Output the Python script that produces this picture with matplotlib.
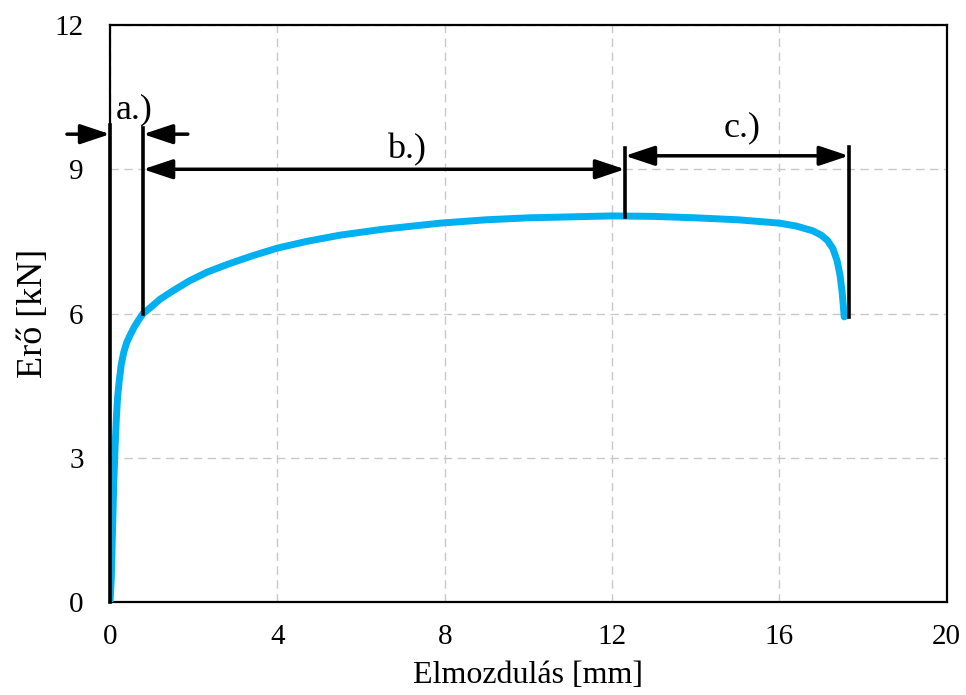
"""
Force-displacement curve of a tensile test with the three stages marked.
"""

import matplotlib.pyplot as plt

plt.rcParams["font.family"] = ["Liberation Serif", "DejaVu Serif"]

# curve
disp = [0.0, 0.03, 0.06, 0.09, 0.12, 0.15, 0.18, 0.22, 0.27, 0.33, 0.4, 0.48,
        0.58, 0.68, 0.79, 0.96, 1.2, 1.5, 1.9, 2.32, 2.8, 3.4, 4.0, 4.7, 5.5,
        6.5, 7.9, 9.0, 10.0, 11.0, 12.0, 13.0, 14.0, 15.0, 16.0, 16.4, 16.8,
        17.0, 17.15, 17.28, 17.38, 17.45, 17.5, 17.53, 17.55]
force = [0.0, 0.5, 1.5, 2.5, 3.2, 3.8, 4.25, 4.6, 4.95, 5.2, 5.4, 5.55,
         5.72, 5.86, 6.0, 6.12, 6.3, 6.47, 6.68, 6.86, 7.02, 7.2, 7.36, 7.5, 7.63,
         7.75, 7.88, 7.95, 7.99, 8.01, 8.03, 8.02, 7.99, 7.95, 7.88, 7.82, 7.72,
         7.63, 7.52, 7.35, 7.1, 6.8, 6.45, 6.15, 5.93]

# stage boundaries and annotation heights
x_a, x_b, x_c = 0.0, 0.79, 12.31
x_end = 17.66
y_a, y_b, y_c = 9.73, 9.0, 9.28

stage_lines = [
    (x_a, 0.0, 9.92),
    (x_b, 6.0, 9.86),
    (x_c, 8.01, 9.44),
    (x_end, 5.93, 9.46),
]
labels = [("a.)", 0.57, 10.23), ("b.)", 7.1, 9.4), ("c.)", 15.1, 9.86)]

fig = plt.figure(figsize=(9.66, 6.95), dpi=100)
ax = fig.add_axes([0.1139, 0.1338, 0.8661, 0.8302])

ax.plot(disp, force, color="#00B0F0", lw=5, solid_capstyle="round",
        solid_joinstyle="round", zorder=3)

for x, y0, y1 in stage_lines:
    ax.plot([x, x], [y0, y1], color="black", lw=2.6, zorder=4, clip_on=False)

head = "-|>,head_length=0.9,head_width=0.3"
both = "<|-|>,head_length=0.9,head_width=0.3"
arrow_kw = dict(color="black", lw=2.5, shrinkA=0, shrinkB=0, mutation_scale=20)

# a.) : two arrows pointing inward
ax.annotate("", xy=(x_a, y_a), xytext=(-1.03, y_a),
            arrowprops=dict(arrowstyle=head, **arrow_kw), annotation_clip=False)
ax.annotate("", xy=(x_b, y_a), xytext=(1.86, y_a),
            arrowprops=dict(arrowstyle=head, **arrow_kw), annotation_clip=False)
# b.) and c.)
ax.annotate("", xy=(x_b, y_b), xytext=(x_c, y_b),
            arrowprops=dict(arrowstyle=both, **arrow_kw))
ax.annotate("", xy=(x_c, y_c), xytext=(x_end, y_c),
            arrowprops=dict(arrowstyle=both, **arrow_kw))

for txt, x, y in labels:
    ax.text(x, y, txt, fontsize=26, ha="center", va="center", zorder=5)

ax.set_xlim(0, 20)
ax.set_ylim(0, 12)
ax.set_xticks([0, 4, 8, 12, 16, 20])
ax.set_yticks([0, 3, 6, 9, 12])
ax.tick_params(length=0, labelsize=21)
ax.tick_params(axis="x", pad=16)
ax.tick_params(axis="y", pad=19)
ax.grid(True, color="#c8c8c8", ls=(0, (6, 4)), lw=1.0)
ax.set_axisbelow(True)
for s in ax.spines.values():
    s.set_linewidth(1.6)

ax.set_xlabel("Elmozdulás [mm]", fontsize=23, labelpad=8)
ax.set_ylabel("Erő [kN]", fontsize=26, labelpad=3)

fig.savefig("out.png", dpi=100)
